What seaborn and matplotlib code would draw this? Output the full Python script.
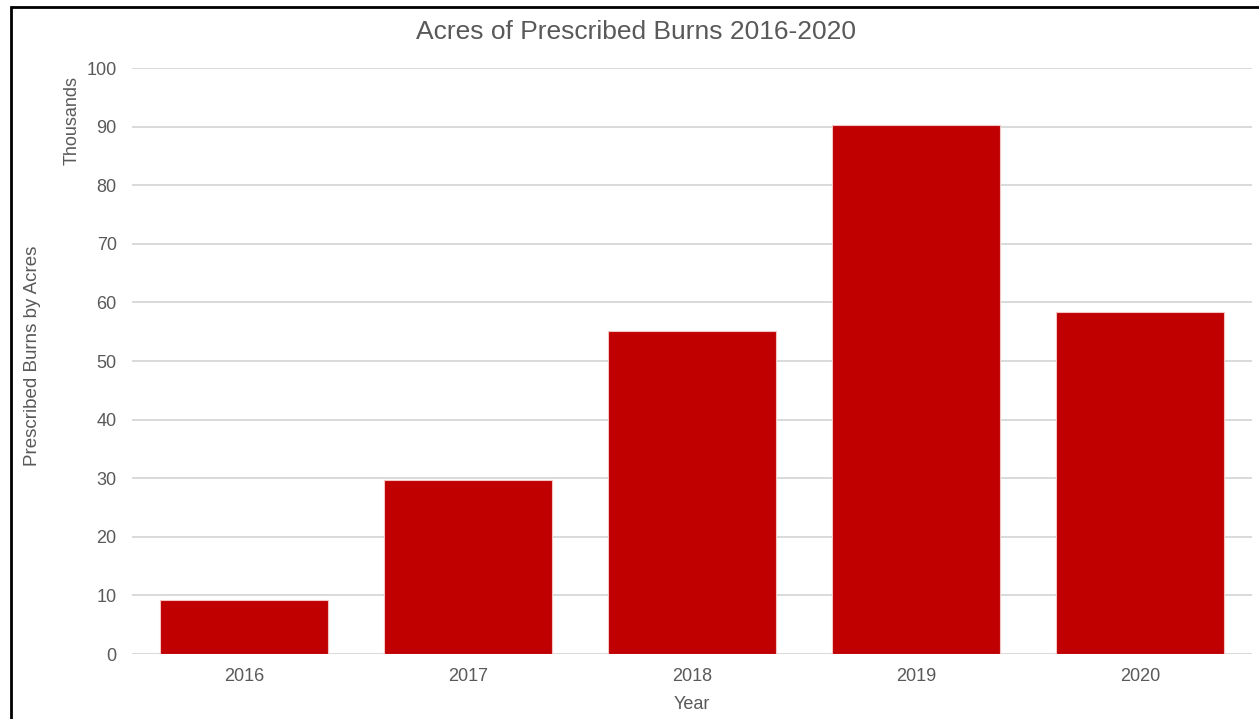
import matplotlib
matplotlib.use("Agg")
import matplotlib.pyplot as plt
from matplotlib.patches import Rectangle
import pandas as pd
import seaborn as sns

# Prescribed burn acreage, in thousands of acres
years = ["2016", "2017", "2018", "2019", "2020"]
acres_thousands = [9.2, 29.7, 55.1, 90.3, 58.4]
y_ticks = [0, 10, 20, 30, 40, 50, 60, 70, 80, 90, 100]

df = pd.DataFrame({"Year": years, "Acres": acres_thousands})

sns.set_theme(style="white")
plt.rcParams["font.family"] = ["Liberation Sans", "DejaVu Sans"]

text_grey = "#595959"
bar_red = "#C00000"

fig = plt.figure(figsize=(12.59, 7.19), dpi=100)
ax = fig.add_axes([0.1048, 0.0904, 0.8896, 0.815])

sns.barplot(data=df, x="Year", y="Acres", color=bar_red, saturation=1,
            width=0.75, edgecolor="#F2C4C4", linewidth=0.8, ax=ax, zorder=3)

ax.set_ylim(0, 100)
ax.set_xlim(-0.5, len(years) - 0.5)
ax.set_yticks(y_ticks)
ax.set_yticklabels([str(t) for t in y_ticks])
ax.grid(axis="y", color="#D9D9D9", linewidth=1.4, zorder=0)
ax.set_axisbelow(True)
for s in ax.spines.values():
    s.set_visible(False)

ax.tick_params(axis="both", length=0, labelsize=13, labelcolor=text_grey)
ax.tick_params(axis="y", pad=11)
ax.tick_params(axis="x", pad=10)

ax.set_xlabel("Year", fontsize=13, color=text_grey, labelpad=8)
ax.set_ylabel("")
fig.text(0.026, 0.505, "Prescribed Burns by Acres", rotation=90, fontsize=13.5,
         color=text_grey, ha="center", va="center")
fig.text(0.057, 0.833, "Thousands", rotation=90, fontsize=13,
         color=text_grey, ha="center", va="center")

fig.text(0.505, 0.955, "Acres of Prescribed Burns 2016-2020", fontsize=19,
         color=text_grey, ha="center", va="center")

# Frame around the chart area
fig.patches.append(Rectangle((0.0087, -0.05), 1.1, 1.0403, transform=fig.transFigure,
                             fill=False, edgecolor="black", linewidth=2, zorder=10))

fig.savefig("out.png", dpi=100, facecolor="white")
